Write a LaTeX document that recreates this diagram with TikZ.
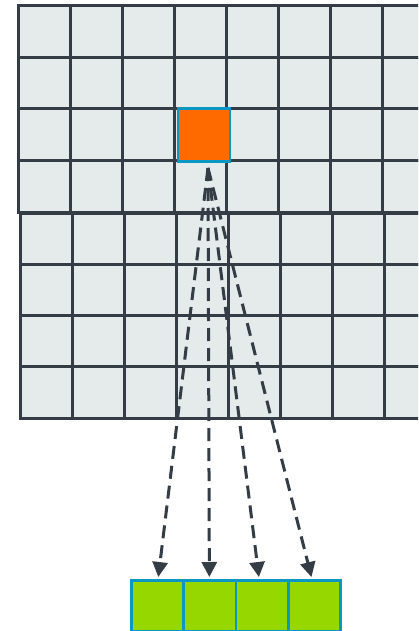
\documentclass[tikz,border=0pt]{standalone}
\usetikzlibrary{arrows.meta}
\definecolor{gridfill}{HTML}{E5EAEB}
\definecolor{gridline}{HTML}{343D46}
\definecolor{hotfill}{HTML}{FF6A00}
\definecolor{edgeblue}{HTML}{0A97C4}
\definecolor{outfill}{HTML}{97D700}
\tikzset{
  cellbox/.style={fill=gridfill, draw=gridline, line width=3pt},
  hotcell/.style={fill=hotfill, draw=edgeblue, line width=2.8pt, inner sep=0pt, anchor=north west},
  outcell/.style={fill=outfill, draw=edgeblue, line width=2.8pt, inner sep=0pt, anchor=north west,
    minimum width=52.3pt, minimum height=51pt},
  dasharrow/.style={draw=gridline, line width=3pt, dash pattern=on 13pt off 7pt,
    -{Triangle[length=15pt,width=15pt]}, shorten >=2pt}
}
\begin{document}
\begin{tikzpicture}[x=1pt,y=-1pt]
\useasboundingbox (0,0) rectangle (418,631);
\clip (0,0) rectangle (418,631);
% upper half of the grid
\foreach \r in {0,...,3} \foreach \c in {0,...,7}
  \draw[cellbox] ({18+52*\c},{6+51.5*\r}) rectangle +(52,51.5);
% lower half of the grid
\foreach \r in {0,...,3} \foreach \c in {0,...,7}
  \draw[cellbox] ({20+52*\c},{213+51.25*\r}) rectangle +(52,51.25);
% highlighted cell
\node[hotcell, minimum width=52pt, minimum height=53pt] (hot) at (176.5,107) {};
% output cells
\node[outcell] (g1) at (130,579) {};
\node[outcell] (g2) at (182.3,579) {};
\node[outcell] (g3) at (234.6,579) {};
\node[outcell] (g4) at (286.9,579) {};
% arrows
\coordinate (src) at (208,168);
\draw[dasharrow] (src) -- ([xshift=0.5pt]g1.north);
\draw[dasharrow] (src) -- ([xshift=-0.5pt]g2.north);
\draw[dasharrow] (src) -- ([xshift=-3pt]g3.north);
\draw[dasharrow] (src) -- ([xshift=-2.5pt]g4.north);
\end{tikzpicture}
\end{document}
